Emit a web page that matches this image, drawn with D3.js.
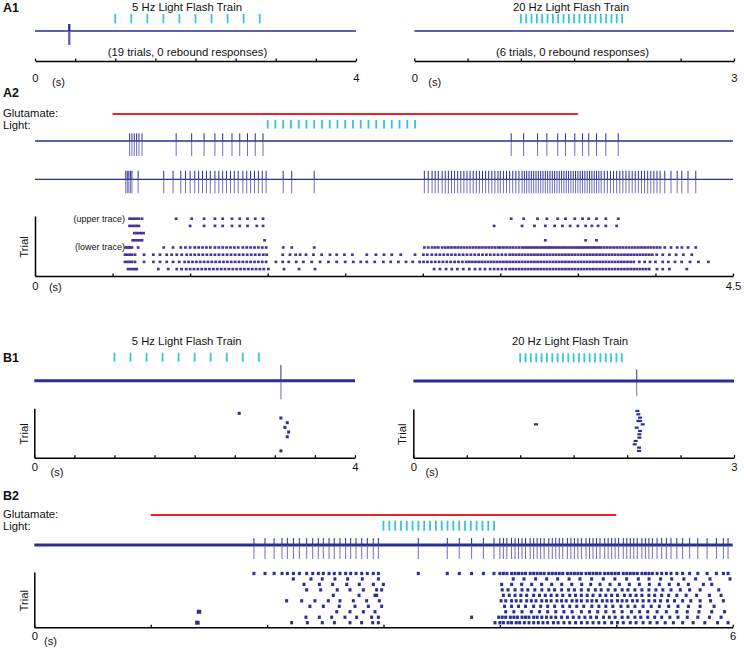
<!DOCTYPE html>
<html>
<head>
<meta charset="utf-8">
<script src="https://cdn.jsdelivr.net/npm/d3@7"></script>
<style>
  body { margin: 0; background: #fff; }
  svg text { font-family: "Liberation Sans", Arial, sans-serif; fill: #111; }
</style>
</head>
<body>
<div id="chart"></div>
<script>
///////////////////////////////////////////////////////////////////////
////////////////////////////// Data //////////////////////////////////
///////////////////////////////////////////////////////////////////////

// light flash times (s)
const flash5Hz = [1.0, 1.2, 1.4, 1.6, 1.8, 2.0, 2.2, 2.4, 2.6, 2.8];
const flash20Hz = [1.0, 1.05, 1.1, 1.15, 1.2, 1.25, 1.3, 1.35, 1.4, 1.45, 1.5, 1.55, 1.6, 1.65, 1.7, 1.75, 1.8, 1.85, 1.9, 1.95];
const a2Flashes = [1.5, 1.55, 1.6, 1.65, 1.7, 1.75, 1.8, 1.85, 1.9, 1.95, 2.0, 2.05, 2.1, 2.15, 2.2, 2.25, 2.3, 2.35, 2.4, 2.45];
const b2Flashes = [3.0, 3.05, 3.1, 3.15, 3.2, 3.25, 3.3, 3.35, 3.4, 3.45, 3.5, 3.55, 3.6, 3.65, 3.7, 3.75, 3.8, 3.85, 3.9, 3.95];

// glutamate application (start, end in s)
const a2Glutamate = [0.5, 3.5];
const b2Glutamate = [1.0, 5.0];

// A1 example traces
const a1LeftSpikes = [0.42, 0.425, 0.43, 0.435];
const a1RightSpikes = [];

// A2 raster, one list of spike times per trial
const a2Trials = [
  [0.61, 0.625, 0.64, 0.655, 0.67, 0.69, 0.91, 1.01, 1.09, 1.16, 1.21, 1.27, 1.32, 1.37, 1.42, 1.47,
   3.07, 3.15, 3.24, 3.30, 3.37, 3.42, 3.48, 3.53, 3.57, 3.62, 3.68, 3.76],
  [0.61, 0.625, 0.64, 0.655, 0.67, 1.0, 1.09, 1.16, 1.21, 1.27, 1.32, 1.37, 1.43, 1.47,
   2.96, 3.14, 3.22, 3.29, 3.35, 3.40, 3.45, 3.50, 3.55, 3.59, 3.63, 3.68, 3.75],
  [0.64, 0.655, 0.67, 0.685, 0.70],
  [0.63, 0.645, 0.66, 0.675, 0.69, 1.48, 3.29, 3.55, 3.62],
  [0.585, 0.595, 0.605, 0.615, 0.625, 0.665, 0.83, 0.89, 0.94, 0.97, 1.0, 1.03, 1.055, 1.08, 1.105, 1.13,
   1.16, 1.185, 1.21, 1.235, 1.26, 1.285, 1.31, 1.34, 1.365, 1.39, 1.415, 1.44, 1.465, 1.49, 1.60, 1.655, 1.80,
   2.51, 2.535, 2.56, 2.58, 2.60, 2.625, 2.645, 2.665, 2.685, 2.705, 2.725, 2.745, 2.765, 2.785, 2.805, 2.825,
   2.845, 2.865, 2.885, 2.905, 2.925, 2.945, 2.965, 2.985, 3.0, 3.02, 3.04, 3.06, 3.08, 3.10, 3.12, 3.14,
   3.155, 3.17, 3.185, 3.20, 3.215, 3.23, 3.245, 3.26, 3.275, 3.29, 3.305, 3.32, 3.335, 3.35, 3.365, 3.38,
   3.395, 3.41, 3.425, 3.44, 3.455, 3.47, 3.485, 3.50, 3.515, 3.53, 3.545, 3.56, 3.575, 3.59, 3.605, 3.62,
   3.635, 3.65, 3.67, 3.69, 3.71, 3.73, 3.75, 3.77, 3.79, 3.81, 3.83, 3.85, 3.87, 3.89, 3.91, 3.93, 3.95,
   3.97, 3.99, 4.01, 4.03, 4.06, 4.10, 4.14, 4.17, 4.21, 4.26],
  [0.58, 0.595, 0.61, 0.625, 0.645, 0.703, 0.763, 0.806, 0.849, 0.881, 0.914, 0.946, 0.978, 1.004, 1.03, 1.056,
   1.082, 1.108, 1.134, 1.16, 1.186, 1.212, 1.238, 1.264, 1.29, 1.316, 1.342, 1.368, 1.394, 1.42, 1.446, 1.472,
   1.494, 1.597, 1.644, 1.681, 1.709, 1.747, 1.795, 1.848, 1.902, 1.945, 1.995, 2.046, 2.139, 2.198, 2.25, 2.30,
   2.358, 2.45, 2.504, 2.529, 2.558, 2.585, 2.61, 2.635, 2.66, 2.685, 2.71, 2.735, 2.76, 2.785, 2.81, 2.835,
   2.86, 2.885, 2.91, 2.935, 2.96, 2.985, 3.01, 3.035, 3.06, 3.08, 3.10, 3.12, 3.14, 3.16, 3.18, 3.20, 3.22,
   3.24, 3.26, 3.28, 3.30, 3.32, 3.34, 3.36, 3.38, 3.40, 3.42, 3.44, 3.46, 3.48, 3.50, 3.52, 3.54, 3.56, 3.58,
   3.60, 3.62, 3.64, 3.66, 3.68, 3.70, 3.72, 3.74, 3.76, 3.78, 3.80, 3.82, 3.84, 3.86, 3.88, 3.90, 3.92, 3.94,
   3.96, 3.98, 4.008, 4.047, 4.09, 4.133, 4.18, 4.234],
  [0.58, 0.595, 0.61, 0.625, 0.645, 0.703, 0.763, 0.806, 0.849, 0.89, 0.93, 0.965, 0.99, 1.015, 1.04, 1.065,
   1.09, 1.115, 1.14, 1.165, 1.19, 1.215, 1.24, 1.265, 1.29, 1.315, 1.34, 1.365, 1.39, 1.415, 1.44, 1.465, 1.49,
   1.553, 1.597, 1.636, 1.684, 1.73, 1.784, 1.838, 1.892, 1.945, 2.0, 2.052, 2.1, 2.139, 2.19, 2.246, 2.293,
   2.343, 2.392, 2.435, 2.48, 2.505, 2.53, 2.555, 2.58, 2.605, 2.63, 2.655, 2.68, 2.705, 2.73, 2.755, 2.78,
   2.80, 2.82, 2.84, 2.86, 2.88, 2.90, 2.92, 2.94, 2.96, 2.98, 3.00, 3.02, 3.04, 3.06, 3.08, 3.10, 3.12, 3.14,
   3.16, 3.18, 3.20, 3.22, 3.24, 3.26, 3.28, 3.30, 3.32, 3.34, 3.36, 3.38, 3.40, 3.42, 3.44, 3.46, 3.48, 3.50,
   3.52, 3.54, 3.56, 3.58, 3.60, 3.62, 3.64, 3.66, 3.68, 3.70, 3.72, 3.74, 3.76, 3.78, 3.80, 3.82, 3.84, 3.86,
   3.896, 3.93, 3.965, 4.0, 4.047, 4.083, 4.126, 4.169, 4.223, 4.277, 4.341],
  [0.60, 0.615, 0.63, 0.645, 0.656, 0.795, 0.859, 0.914, 0.945, 0.975, 1.0, 1.025, 1.05, 1.075, 1.10, 1.125,
   1.15, 1.175, 1.20, 1.225, 1.25, 1.275, 1.30, 1.325, 1.35, 1.375, 1.40, 1.425, 1.45, 1.475, 1.504, 1.605,
   1.702, 1.805, 2.573, 2.611, 2.65, 2.687, 2.723, 2.761, 2.80, 2.837, 2.869, 2.901, 2.934, 2.96, 2.985, 3.01,
   3.035, 3.06, 3.08, 3.10, 3.12, 3.14, 3.16, 3.18, 3.20, 3.22, 3.24, 3.26, 3.28, 3.30, 3.32, 3.34, 3.36, 3.38,
   3.40, 3.42, 3.44, 3.46, 3.48, 3.50, 3.52, 3.54, 3.56, 3.58, 3.60, 3.62, 3.64, 3.66, 3.68, 3.70, 3.72, 3.74,
   3.76, 3.78, 3.80, 3.82, 3.84, 3.86, 3.88, 3.90, 3.92, 3.94, 3.96, 4.01, 4.047, 4.09, 4.202]
];
const a2UpperTrial = 0;
const a2LowerTrial = 4;

// B1 rasters: trial index and spike time
const b1LeftTrial = [0, 1, 2, 3, 4, 5, 8];
const b1LeftTime = [2.556, 3.076, 3.155, 3.126, 3.172, 3.155, 3.076];
const b1LeftTraceSpikes = [3.076];
const b1RightTrial = [0, 1, 2, 3, 3, 4, 4, 5, 6, 7, 8, 9, 10, 11, 12];
const b1RightTime = [2.096, 2.105, 2.121, 2.106, 2.122, 1.148, 2.146, 2.09, 2.121, 2.115, 2.115, 2.08, 2.071, 2.111, 2.111];
const b1RightTraceSpikes = [2.09];

// B2 raster, one list per trial
const b2Trials = [
  [1.887, 1.982, 2.06, 2.128, 2.174, 2.226, 2.277, 2.34, 2.392, 2.44, 2.483, 2.532, 2.577, 2.626, 2.675, 2.718,
   2.764, 2.813, 2.861, 2.912, 2.956, 3.299, 3.548, 3.651, 3.757, 3.858, 3.949, 4.00, 4.03, 4.06, 4.10, 4.13,
   4.16, 4.19, 4.22, 4.26, 4.29, 4.32, 4.35, 4.38, 4.42, 4.45, 4.48, 4.51, 4.54, 4.58, 4.61, 4.64, 4.67, 4.70,
   4.74, 4.77, 4.80, 4.83, 4.86, 4.90, 4.93, 4.96, 4.99, 5.02, 5.06, 5.09, 5.12, 5.15, 5.18, 5.22, 5.25, 5.28,
   5.31, 5.35, 5.39, 5.43, 5.47, 5.52, 5.57, 5.63, 5.70, 5.78, 5.86, 5.92, 5.96],
  [2.225, 2.377, 2.474, 2.583, 2.692, 2.818, 2.956, 4.115, 4.207, 4.307, 4.402, 4.496, 4.594, 4.688, 4.788,
   4.888, 4.988, 5.089, 5.189, 5.281, 5.381, 5.476, 5.581, 5.682, 5.805, 5.977],
  [2.317, 2.449, 2.563, 2.684, 2.792, 2.913, 2.999, 4.015, 4.101, 4.187, 4.273, 4.359, 4.445, 4.531, 4.617,
   4.703, 4.78, 4.86, 4.946, 5.026, 5.112, 5.198, 5.284, 5.37, 5.455, 5.533, 5.619, 5.748, 5.82],
  [2.34, 2.46, 2.603, 2.712, 2.827, 2.941, 2.984, 4.02, 4.07, 4.13, 4.19, 4.24, 4.30, 4.36, 4.42, 4.47, 4.53,
   4.59, 4.64, 4.70, 4.76, 4.82, 4.87, 4.93, 4.99, 5.05, 5.10, 5.16, 5.22, 5.28, 5.34, 5.40, 5.47, 5.55, 5.63,
   5.72, 5.88],
  [2.569, 2.79, 2.941, 2.927, 4.03, 4.08, 4.13, 4.18, 4.23, 4.29, 4.34, 4.39, 4.44, 4.49, 4.54, 4.60, 4.65,
   4.70, 4.75, 4.80, 4.86, 4.91, 4.96, 5.01, 5.07, 5.12, 5.17, 5.22, 5.28, 5.33, 5.39, 5.45, 5.52, 5.60, 5.69,
   5.80, 5.90],
  [2.168, 2.297, 2.411, 2.526, 2.626, 2.741, 2.855, 2.964, 4.01, 4.05, 4.10, 4.14, 4.18, 4.23, 4.27, 4.31,
   4.36, 4.40, 4.44, 4.49, 4.53, 4.57, 4.62, 4.66, 4.70, 4.75, 4.79, 4.83, 4.88, 4.92, 4.96, 5.01, 5.05, 5.09,
   5.14, 5.18, 5.23, 5.28, 5.33, 5.38, 5.44, 5.50, 5.57, 5.64, 5.72, 5.81, 5.92],
  [2.368, 2.483, 2.62, 2.755, 2.87, 2.984, 4.04, 4.10, 4.16, 4.22, 4.29, 4.35, 4.41, 4.47, 4.54, 4.60, 4.66,
   4.72, 4.79, 4.85, 4.91, 4.97, 5.04, 5.10, 5.16, 5.23, 5.30, 5.37, 5.45, 5.53, 5.62, 5.72, 5.84],
  [1.415, 2.598, 2.712, 2.827, 2.927, 4.05, 4.12, 4.19, 4.27, 4.34, 4.41, 4.48, 4.55, 4.62, 4.70, 4.77, 4.84,
   4.91, 4.98, 5.05, 5.13, 5.20, 5.27, 5.35, 5.43, 5.52, 5.61, 5.71, 5.82, 5.93],
  [2.334, 2.449, 2.555, 2.669, 2.769, 2.898, 2.956, 3.757, 3.99, 4.02, 4.05, 4.09, 4.12, 4.15, 4.19, 4.22,
   4.25, 4.29, 4.32, 4.36, 4.40, 4.44, 4.48, 4.53, 4.58, 4.63, 4.68, 4.73, 4.78, 4.83, 4.89, 4.94, 4.99, 5.05,
   5.10, 5.16, 5.21, 5.27, 5.33, 5.39, 5.46, 5.53, 5.61, 5.70, 5.80, 5.90],
  [1.401, 2.211, 2.346, 2.474, 2.578, 2.712, 2.812, 2.907, 2.956, 3.958, 4.00, 4.03, 4.07, 4.10, 4.14, 4.17,
   4.21, 4.25, 4.29, 4.33, 4.37, 4.41, 4.46, 4.50, 4.55, 4.60, 4.65, 4.70, 4.75, 4.80, 4.85, 4.90, 4.96, 5.01,
   5.06, 5.12, 5.17, 5.23, 5.29, 5.35, 5.42, 5.49, 5.57, 5.66, 5.76, 5.87, 5.96]
];
const b2TraceTrial = 0;
// early isolated spikes drawn larger in B2
const b2EarlySpikes = [1.401, 1.415];

// axis ticks (s)
const ticks4 = [0, 0.5, 1, 1.5, 2, 2.5, 3, 3.5, 4];
const ticks3 = [0, 0.5, 1, 1.5, 2, 2.5, 3];
const ticks45 = [0, 0.5, 1, 1.5, 2, 2.5, 3, 3.5, 4, 4.5];
const ticks6 = [0, 1, 2, 3, 4, 5, 6];

///////////////////////////////////////////////////////////////////////
////////////////////////////// Drawing ///////////////////////////////
///////////////////////////////////////////////////////////////////////

const width = 744;
const height = 651;
const FONT = '"Liberation Sans", Arial, sans-serif';
const traceColor = '#2b2f8e';
const spikeDown = '#5358ad';
const rasterBlue = '#2a2f95';
const cyan = '#33c4e3';
const red = '#ee2424';

const svg = d3.select('#chart')
  .append('svg')
  .attr('width', width)
  .attr('height', height);

// time scales
const xA1L = d3.scaleLinear().domain([0, 4]).range([35, 356]);
const xA1R = d3.scaleLinear().domain([0, 3]).range([414.3, 734]);
const xA2 = d3.scaleLinear().domain([0, 4.5]).range([35, 733]);
const xB1L = d3.scaleLinear().domain([0, 4]).range([34.3, 355]);
const xB1R = d3.scaleLinear().domain([0, 3]).range([413.3, 734]);
const xB2 = d3.scaleLinear().domain([0, 6]).range([34.3, 732.7]);

// trial scales (axis line spans the full range)
const yA2 = d3.scaleLinear().domain([-0.375, 7.96]).range([216, 276]);
const yB1L = d3.scaleLinear().domain([-1.06, 9.45]).range([408.3, 457.7]);
const yB1R = d3.scaleLinear().domain([-0.6, 14.02]).range([409, 457.7]);
const yB2 = d3.scaleLinear().domain([-0.27, 9.84]).range([572, 627.3]);

function text(x, y, str, size, opts = {}) {
  return svg.append('text')
    .attr('x', x)
    .attr('y', y)
    .attr('font-size', size)
    .attr('font-weight', opts.bold ? 'bold' : 'normal')
    .attr('text-anchor', opts.anchor || 'start')
    .text(str);
}

function timeAxis(x, y0, ticks, pad, fmt) {
  const last = ticks[ticks.length - 1];
  const g = svg.append('g')
    .attr('transform', `translate(0,${y0})`)
    .call(d3.axisBottom(x)
      .tickValues(ticks)
      .tickSizeInner(-2.5)
      .tickSizeOuter(0)
      .tickPadding(pad)
      .tickFormat(d => (d === 0 || d === last) ? fmt(d) : ''))
    .attr('font-family', FONT)
    .attr('font-size', 11.3);
  g.select('.domain').attr('stroke', '#000').attr('stroke-width', 1.5);
  g.selectAll('.tick line').attr('stroke', '#000').attr('stroke-width', 1.3);
  g.selectAll('.tick text').attr('fill', '#111');
}

function trialAxis(x0, y, labelX) {
  const g = svg.append('g')
    .attr('transform', `translate(${x0},0)`)
    .call(d3.axisLeft(y).tickValues([]).tickSizeOuter(0));
  g.select('.domain').attr('stroke', '#000').attr('stroke-width', 1.5);
  const [a, b] = y.range();
  svg.append('text')
    .attr('transform', `translate(${labelX},${(a + b) / 2 + 1}) rotate(-90)`)
    .attr('text-anchor', 'middle')
    .attr('dy', '0.35em')
    .attr('font-size', 11.3)
    .text('Trial');
}

// baseline plus one vertical deflection per spike (upper part dark, lower part lighter)
function trace(x, y0, spikes, up, down, baseWidth) {
  const [t0, t1] = x.domain();
  svg.append('line')
    .attr('x1', x(t0)).attr('x2', x(t1))
    .attr('y1', y0).attr('y2', y0)
    .attr('stroke', traceColor)
    .attr('stroke-width', baseWidth);
  const g = svg.append('g');
  g.selectAll('line.down')
    .data(spikes)
    .join('line')
    .attr('class', 'down')
    .attr('x1', d => x(d)).attr('x2', d => x(d))
    .attr('y1', y0).attr('y2', y0 + down)
    .attr('stroke', spikeDown)
    .attr('stroke-opacity', 0.85)
    .attr('stroke-width', 1);
  g.selectAll('line.up')
    .data(spikes)
    .join('line')
    .attr('class', 'up')
    .attr('x1', d => x(d)).attr('x2', d => x(d))
    .attr('y1', y0 - up).attr('y2', y0)
    .attr('stroke', traceColor)
    .attr('stroke-width', 1);
}

function flashes(x, times, y1, y2) {
  svg.append('g').selectAll('line')
    .data(times)
    .join('line')
    .attr('x1', d => x(d)).attr('x2', d => x(d))
    .attr('y1', y1).attr('y2', y2)
    .attr('stroke', cyan)
    .attr('stroke-width', 1.8);
}

function glutamate(x, span, y0) {
  svg.append('line')
    .attr('x1', x(span[0])).attr('x2', x(span[1]))
    .attr('y1', y0).attr('y2', y0)
    .attr('stroke', red)
    .attr('stroke-width', 1.8);
}

// points: [{t, i}] spike time and trial index
function raster(x, y, pts, w, h, color) {
  svg.append('g').selectAll('rect')
    .data(pts)
    .join('rect')
    .attr('x', d => x(d.t) - w / 2)
    .attr('y', d => y(d.i) - h / 2)
    .attr('width', w)
    .attr('height', h)
    .attr('fill', color);
}

function flatten(trials, keep) {
  const pts = [];
  trials.forEach((row, i) => row.forEach(t => { if (keep(t)) pts.push({ t, i }); }));
  return pts;
}

const fmtInt = d3.format('d');

////////////////////////////// A1 //////////////////////////////
text(3, 11.5, 'A1', 12.5, { bold: true });
text(187, 11, '5 Hz Light Flash Train', 11.3, { anchor: 'middle' });
text(571, 11, '20 Hz Light Flash Train', 11.3, { anchor: 'middle' });
flashes(xA1L, flash5Hz, 14, 23.3);
flashes(xA1R, flash20Hz, 14, 23.3);
trace(xA1L, 31, a1LeftSpikes, 7, 14, 1.5);
trace(xA1R, 31, a1RightSpikes, 7, 14, 1.5);
text(187.5, 55.5, '(19 trials, 0 rebound responses)', 11.3, { anchor: 'middle' });
text(572.5, 55.5, '(6 trials, 0 rebound responses)', 11.3, { anchor: 'middle' });
timeAxis(xA1L, 61, ticks4, 12.9, fmtInt);
timeAxis(xA1R, 61, ticks3, 12.9, fmtInt);
text(58.5, 86, '(s)', 11, { anchor: 'middle' });
text(434.7, 86, '(s)', 11, { anchor: 'middle' });

////////////////////////////// A2 //////////////////////////////
text(3, 96.7, 'A2', 12.5, { bold: true });
text(3, 116.5, 'Glutamate:', 11.3);
text(3, 128.7, 'Light:', 11.3);
glutamate(xA2, a2Glutamate, 114);
flashes(xA2, a2Flashes, 120, 128.5);
trace(xA2, 141, a2Trials[a2UpperTrial], 7.7, 15, 1.3);
trace(xA2, 179.3, a2Trials[a2LowerTrial], 8.5, 14, 1.3);
raster(xA2, yA2, flatten(a2Trials, () => true), 2.8, 2.6, '#4a3497');
text(125, yA2(a2UpperTrial) + 3, '(upper trace)', 9, { anchor: 'end' });
text(125, yA2(a2LowerTrial) + 3, '(lower trace)', 9, { anchor: 'end' });
trialAxis(35, yA2, 24);
timeAxis(xA2, 276, ticks45, 5.5, d => d === 0 ? '0' : '4.5');
text(55.3, 291, '(s)', 11, { anchor: 'middle' });

////////////////////////////// B1 //////////////////////////////
text(3, 361.7, 'B1', 12.5, { bold: true });
text(186.7, 345, '5 Hz Light Flash Train', 11.3, { anchor: 'middle' });
text(570, 345, '20 Hz Light Flash Train', 11.3, { anchor: 'middle' });
flashes(xB1L, flash5Hz, 352.7, 361.7);
flashes(xB1R, flash20Hz, 353.3, 362.3);
trace(xB1L, 380.7, b1LeftTraceSpikes, 15.7, 18.6, 3);
trace(xB1R, 381, b1RightTraceSpikes, 11.7, 15, 3);
raster(xB1L, yB1L, b1LeftTime.map((t, k) => ({ t, i: b1LeftTrial[k] })), 3, 3, rasterBlue);
raster(xB1R, yB1R, b1RightTime.map((t, k) => ({ t, i: b1RightTrial[k] })), 4, 2.2, rasterBlue);
trialAxis(34.3, yB1L, 24);
trialAxis(413.3, yB1R, 401.7);
timeAxis(xB1L, 457.7, ticks4, 5.5, fmtInt);
timeAxis(xB1R, 457.7, ticks3, 5.5, fmtInt);
text(57, 475.5, '(s)', 11, { anchor: 'middle' });
text(432, 475.5, '(s)', 11, { anchor: 'middle' });

////////////////////////////// B2 //////////////////////////////
text(3, 500, 'B2', 12.5, { bold: true });
text(3, 517.5, 'Glutamate:', 11.3);
text(3, 529.5, 'Light:', 11.3);
glutamate(xB2, b2Glutamate, 515);
flashes(xB2, b2Flashes, 520.7, 530.7);
trace(xB2, 545, b2Trials[b2TraceTrial], 7, 14, 3);
raster(xB2, yB2, flatten(b2Trials, t => !b2EarlySpikes.includes(t)), 3, 3.3, rasterBlue);
raster(xB2, yB2, flatten(b2Trials, t => b2EarlySpikes.includes(t)), 4.5, 4, rasterBlue);
trialAxis(34.3, yB2, 24);
timeAxis(xB2, 627.3, ticks6, 4.7, fmtInt);
text(50.5, 644.5, '(s)', 11, { anchor: 'middle' });
</script>
</body>
</html>
